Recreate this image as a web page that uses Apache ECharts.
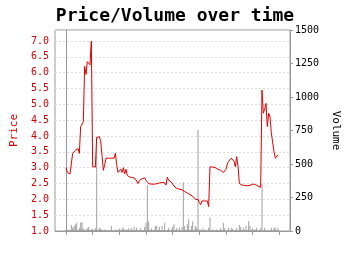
<!DOCTYPE html>
<html><head><meta charset="utf-8">
<script src="https://cdn.jsdelivr.net/npm/echarts@6/dist/echarts.min.js"></script>
<style>html,body{margin:0;padding:0;background:#fff}#c{width:350px;height:255px}</style>
</head><body><div id="c"></div>
<script>
// Price per period (index 0..159)
const price = [
3.0,2.85,2.8,2.8,2.82,3.45,3.5,3.55,3.55,3.6,
3.45,4.3,4.35,4.45,6.2,5.95,6.35,6.4,6.25,7.0,
3.03,3.02,3.02,3.95,4.0,3.98,3.85,3.4,2.92,3.08,
3.3,3.3,3.3,3.31,3.3,3.35,3.3,3.45,3.1,2.85,
2.9,2.95,2.85,3.0,2.8,2.95,2.75,2.7,2.7,2.7,
2.69,2.68,2.65,2.6,2.5,2.6,2.62,2.65,2.7,2.68,
2.6,2.55,2.5,2.47,2.48,2.47,2.48,2.5,2.49,2.5,
2.52,2.52,2.53,2.55,2.52,2.45,2.7,2.6,2.62,2.55,
2.5,2.42,2.38,2.35,2.33,2.32,2.32,2.3,2.28,2.25,
2.22,2.2,2.18,2.15,2.12,2.1,2.05,2.0,1.97,2.0,
1.9,1.83,1.95,2.0,1.95,1.9,1.95,1.77,3.03,3.03,
3.02,3.0,3.0,2.98,2.95,2.95,2.92,2.9,2.85,2.8,
2.95,3.12,3.2,3.25,3.3,3.35,3.2,3.03,3.35,3.05,
2.5,2.47,2.45,2.45,2.44,2.44,2.43,2.43,2.44,2.46,
2.48,2.5,2.47,2.45,2.42,2.4,2.38,5.45,4.72,4.85,
5.03,4.3,4.72,4.6,4.1,4.1,3.5,3.3,3.24,3.4
];
// Volume per period (index 0..159)
const volume = [
5,8,6,10,45,25,37,50,62,8,
25,62,67,20,6,12,20,30,8,12,
17,6,20,700,10,25,17,12,6,12,
5,4,8,6,37,5,4,12,6,8,
17,5,20,25,6,15,8,20,5,20,
6,30,8,25,5,6,20,8,6,30,
62,343,70,8,20,6,8,37,37,8,
30,6,37,8,62,6,8,25,6,12,
30,50,8,20,6,25,8,30,363,37,
8,50,87,8,37,70,6,37,25,754,
12,5,20,6,12,5,6,25,100,6,
12,5,6,12,5,6,20,6,62,20,
6,8,25,6,25,17,6,8,25,6,
45,30,6,25,8,37,6,75,37,6,
20,8,12,25,6,8,20,350,6,25,
5,6,4,5,25,6,25,25,6,25
];
const xTicks = [0,20,40,60,80,100,120,140,160];
const priceTicks = { min: 1, max: 7.35, interval: 0.5 };
const volumeTicks = { min: 0, max: 1500, interval: 250 };

const mono = 'DejaVu Sans Mono';
const chart = echarts.init(document.getElementById('c'), null, {renderer: 'canvas'});
chart.setOption({
  animation: false,
  backgroundColor: '#fff',
  title: {
    text: 'Price/Volume over time', left: 'center', top: 2,
    textStyle: {fontFamily: mono, fontWeight: 'bold', fontSize: 18, color: '#000'}
  },
  grid: {left: 55, right: 60, top: 30, bottom: 24, show: true, borderColor: '#999', borderWidth: 1},
  xAxis: {
    type: 'value', min: -8.25, max: 168,
    axisLine: {lineStyle: {color: '#999'}},
    axisTick: {show: true, length: 4, lineStyle: {color: '#999'}, customValues: xTicks},
    axisLabel: {show: false},
    splitLine: {show: false}
  },
  yAxis: [{
    type: 'value', min: priceTicks.min, max: priceTicks.max, interval: priceTicks.interval,
    name: 'Price', nameLocation: 'middle', nameGap: 29,
    nameTextStyle: {fontFamily: mono, fontSize: 11, color: '#d40000'},
    axisLine: {show: true, lineStyle: {color: '#999'}},
    axisTick: {show: false},
    axisLabel: {fontFamily: mono, fontSize: 10, color: '#d40000', margin: 6, showMaxLabel: false,
      formatter: v => v.toFixed(1)},
    splitLine: {show: true, lineStyle: {color: '#ddd', type: [2, 2]}}
  }, {
    type: 'value', min: volumeTicks.min, max: volumeTicks.max, interval: volumeTicks.interval,
    position: 'right',
    name: 'Volume', nameLocation: 'middle', nameGap: 35, nameRotate: -90,
    nameTextStyle: {fontFamily: mono, fontSize: 11, color: '#000'},
    axisLine: {show: true, lineStyle: {color: '#999'}},
    axisTick: {show: true, length: 3, lineStyle: {color: '#999'}},
    axisLabel: {fontFamily: mono, fontSize: 10, color: '#000', margin: 5,
      formatter: v => String(v)},
    splitLine: {show: false}
  }],
  series: [{
    type: 'bar', yAxisIndex: 1, barWidth: 1,
    data: volume.map((v, i) => [i, v]),
    itemStyle: {color: 'rgba(120,120,120,0.7)'},
    silent: true
  }, {
    type: 'line', yAxisIndex: 0,
    data: price.map((v, i) => [i, v]),
    showSymbol: false, symbol: 'none',
    lineStyle: {color: '#e00000', width: 1},
    z: 5
  }]
});
</script></body></html>
